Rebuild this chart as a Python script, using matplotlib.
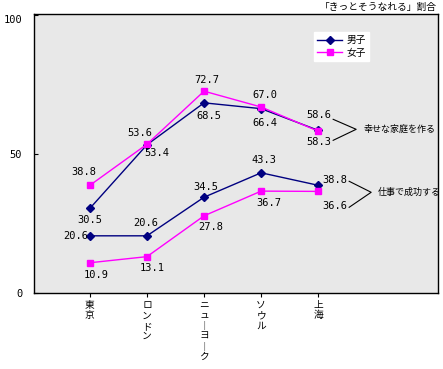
import matplotlib

matplotlib.use("Agg")
import matplotlib.pyplot as plt

plt.rcParams["font.family"] = ["Noto Sans CJK JP", "DejaVu Sans"]

# データ
cities = ["東京", "ロンドン", "ニューヨーク", "ソウル", "上海"]
happy_boys = [30.5, 53.4, 68.5, 66.4, 58.6]
happy_girls = [38.8, 53.6, 72.7, 67.0, 58.3]
work_boys = [20.6, 20.6, 34.5, 43.3, 38.8]
work_girls = [10.9, 13.1, 27.8, 36.7, 36.6]
y_ticks = [0, 50, 100]

BOY_COLOR = "#000080"
GIRL_COLOR = "#FF00FF"
NUM_FONT = ["DejaVu Sans Mono"]


def vertical(text: str) -> str:
    """縦書き風に1文字ずつ改行する（長音は縦棒にする）。"""
    return "\n".join("︱" if c == "ー" else c for c in text)


fig = plt.figure(figsize=(4.43, 3.69), dpi=100)
ax = fig.add_axes([34 / 443, 76 / 369, 404 / 443, 279 / 369])
ax.set_facecolor("#E8E8E8")

x = list(range(len(cities)))
ax.plot(x, happy_boys, color=BOY_COLOR, lw=1, marker="D", ms=4, label="男子")
ax.plot(x, happy_girls, color=GIRL_COLOR, lw=1, marker="s", ms=4.8, label="女子")
ax.plot(x, work_boys, color=BOY_COLOR, lw=1, marker="D", ms=4)
ax.plot(x, work_girls, color=GIRL_COLOR, lw=1, marker="s", ms=4.8)

ax.set_xlim(-0.98, 6.1)
ax.set_ylim(0, 100.5)
ax.set_yticks(y_ticks)
ax.set_yticklabels([str(v) for v in y_ticks], family=NUM_FONT, fontsize=7.5)
ax.set_xticks(x)
ax.set_xticklabels([vertical(c) for c in cities], fontsize=7, linespacing=1.05, va="top")
ax.tick_params(axis="y", direction="in", length=3, pad=8.5)
ax.tick_params(axis="x", direction="out", length=3, pad=2)
for spine in ax.spines.values():
    spine.set_color("black")
    spine.set_linewidth(1)

# 数値ラベル（点からのピクセルオフセット）
offsets = {
    "happy_boys": [(0, -12), (10, -8), (5, -13), (4, -14), (1, 15)],
    "happy_girls": [(-6, 13), (-7, 11), (3, 11), (4, 12), (1, -11)],
    "work_boys": [(-14, 0), (-1, 13), (2, 10), (3, 13), (17, 5)],
    "work_girls": [(6, -12), (5, -11), (7, -11), (8, -12), (17, -15)],
}
series = {
    "happy_boys": happy_boys,
    "happy_girls": happy_girls,
    "work_boys": work_boys,
    "work_girls": work_girls,
}
for name, values in series.items():
    for i, v in enumerate(values):
        ax.annotate(f"{v:.1f}", (i, v), xytext=offsets[name][i], textcoords="offset pixels",
                    ha="center", va="center", fontsize=7.5, family=NUM_FONT)


# 右側の括弧線と項目名（上海の男子の点からのピクセルオフセット）
def bracket(y_value, x_start, dy_top, dy_bottom, x_apex, dy_apex, label, label_dx):
    base = ax.transData.transform((len(cities) - 1, y_value))
    inv = ax.transData.inverted()
    pts = [(base[0] + x_start, base[1] + dy_top),
           (base[0] + x_apex, base[1] + dy_apex),
           (base[0] + x_start, base[1] + dy_bottom)]
    data_pts = inv.transform(pts)
    ax.plot(data_pts[:, 0], data_pts[:, 1], color="black", lw=0.8)
    tx, ty = inv.transform((base[0] + label_dx, base[1] + dy_apex))
    ax.text(tx, ty, label, ha="left", va="center", fontsize=6.5)


fig.canvas.draw()
bracket(happy_boys[-1], 15, 11, -10, 38, 1, "幸せな家庭を作る", 45)
bracket(work_boys[-1], 31, 4, -22, 53, -7, "仕事で成功する", 60)

# 一番上の目盛りラベルは枠の内側に少し下げる
ax.yaxis.get_major_ticks()[-1].label1.set_verticalalignment("top")

ax.legend(loc="upper left", bbox_to_anchor=(280 / 404, 1 - 18 / 279), frameon=True,
          fancybox=False, edgecolor="white", facecolor="white", framealpha=1,
          fontsize=7, handlelength=2.6, borderpad=0.3, labelspacing=0.3, handletextpad=0.4,
          borderaxespad=0)

fig.text(437 / 443, 1 - 7 / 369, "「きっとそうなれる」割合", ha="right", va="center", fontsize=7)

fig.savefig("out.png", dpi=100)
